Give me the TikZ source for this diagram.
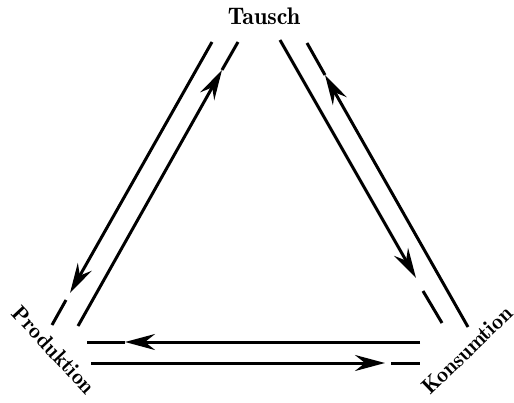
\documentclass[tikz,border=0pt]{standalone}
\usetikzlibrary{arrows.meta}
\tikzset{corner/.style={font=\fontsize{11}{13}\fontseries{b}\selectfont}}
\begin{document}
\begin{tikzpicture}[x=0.5pt, y=-0.5pt, >={Stealth[length=15pt, width=8pt, inset=5pt]}, line width=1.5pt]
    \useasboundingbox (0,0) rectangle (514,402);

    % Labels at the three corners
    \node[corner, font=\fontsize{12}{14}\fontseries{b}\selectfont] (tausch) at (264,16) {Tausch};
    \node[corner, rotate=-47] (prod) at (54,350) {Produktion};
    \node[corner, rotate=44] (kons) at (467,350) {Konsumtion};

    % Left pair: Tausch to Produktion and back
    \coordinate (lo1) at (212,42);
    \coordinate (lo2) at (70,293);
    \coordinate (lo3) at (66,300);
    \coordinate (lo4) at (52,325);
    \coordinate (li1) at (78,326);
    \coordinate (li2) at (222,70);
    \coordinate (li3) at (238,42);

    \draw[->] (lo1) -- (lo2);
    \draw (lo3) -- (lo4);
    \draw[->] (li1) -- (li2);
    \draw (li2) -- (li3);

    % Right pair: Tausch to Konsumtion and back
    \coordinate (ri1) at (280,40);
    \coordinate (ri2) at (416,278);
    \coordinate (ri3) at (423,291);
    \coordinate (ri4) at (442,323);
    \coordinate (ro1) at (468,327);
    \coordinate (ro2) at (325,75);
    \coordinate (ro3) at (307,43);

    \draw[->] (ri1) -- (ri2);
    \draw (ri3) -- (ri4);
    \draw[->] (ro1) -- (ro2);
    \draw (ro2) -- (ro3);

    % Bottom pair: Produktion and Konsumtion
    \coordinate (bt1) at (420,342);
    \coordinate (bt2) at (125,342);
    \coordinate (bt3) at (87,342);
    \coordinate (bb1) at (91,363);
    \coordinate (bb2) at (385,363);
    \coordinate (bb3) at (391,363);
    \coordinate (bb4) at (420,363);

    \draw[->] (bt1) -- (bt2);
    \draw (bt2) -- (bt3);
    \draw[->] (bb1) -- (bb2);
    \draw (bb3) -- (bb4);
\end{tikzpicture}
\end{document}
